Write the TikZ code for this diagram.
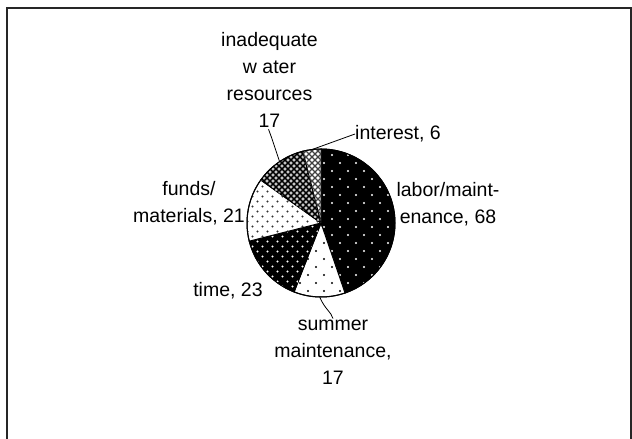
\documentclass[tikz,border=0pt]{standalone}
\usepackage{fontspec}
\setmainfont{Liberation Sans}
\usetikzlibrary{patterns,calc}
\pgfdeclarepatternformonly{sparsedots}{\pgfqpoint{-1pt}{-1pt}}{\pgfqpoint{17pt}{17pt}}{\pgfqpoint{16pt}{16pt}}{%
  \pgfpathcircle{\pgfqpoint{4pt}{4pt}}{1.1pt}%
  \pgfpathcircle{\pgfqpoint{12pt}{12pt}}{1.1pt}%
  \pgfusepath{fill}}
\pgfdeclarepatternformonly{densedots}{\pgfqpoint{-1pt}{-1pt}}{\pgfqpoint{11pt}{11pt}}{\pgfqpoint{10pt}{10pt}}{%
  \pgfpathcircle{\pgfqpoint{2.5pt}{2.5pt}}{1.15pt}%
  \pgfpathcircle{\pgfqpoint{7.5pt}{7.5pt}}{1.15pt}%
  \pgfusepath{fill}}
\pgfdeclarepatternformonly{xhatch}{\pgfqpoint{-1pt}{-1pt}}{\pgfqpoint{7pt}{7pt}}{\pgfqpoint{6pt}{6pt}}{%
  \pgfsetlinewidth{1.3pt}%
  \pgfpathmoveto{\pgfqpoint{0pt}{0pt}}\pgfpathlineto{\pgfqpoint{6pt}{6pt}}%
  \pgfpathmoveto{\pgfqpoint{0pt}{6pt}}\pgfpathlineto{\pgfqpoint{6pt}{0pt}}%
  \pgfusepath{stroke}}
\pgfdeclarepatternformonly{xcenters}{\pgfqpoint{-1pt}{-1pt}}{\pgfqpoint{7pt}{7pt}}{\pgfqpoint{6pt}{6pt}}{%
  \pgfpathcircle{\pgfqpoint{3pt}{0pt}}{0.8pt}%
  \pgfpathcircle{\pgfqpoint{0pt}{3pt}}{0.8pt}%
  \pgfusepath{fill}}
\newcommand{\pieslice}[3]{%
  \path[#3] (c) -- ++(#1:74) arc[start angle=#1, end angle=#2, radius=74] -- cycle;}
\begin{document}
\begin{tikzpicture}[x=1pt,y=1pt,
  lbl/.style={font=\fontsize{19.5}{27}\selectfont, align=center, inner sep=0pt},
  frameline/.style={line width=2pt, black!85},
  leader/.style={line width=0.8pt, black},
  slicebase/.style={draw=black, line width=1pt}]
\useasboundingbox (0,0) rectangle (632,439);
% frame
\draw[frameline] (7,0) -- (7,431) -- (631,431) -- (631,0);
% pie
\coordinate (c) at (321,216);
\pieslice{90}{-71.05}{slicebase, fill=black, postaction={pattern=sparsedots, pattern color=white}}
\pieslice{-71.05}{-111.32}{slicebase, fill=white, postaction={pattern=sparsedots, pattern color=black}}
\pieslice{-111.32}{-165.79}{slicebase, fill=black, postaction={pattern=densedots, pattern color=white}}
\pieslice{-165.79}{-215.53}{slicebase, fill=white, postaction={pattern=densedots, pattern color=black!80}}
\pieslice{144.47}{104.21}{slicebase, fill=black!45, postaction={pattern=xhatch, pattern color=black}, postaction={pattern=xcenters, pattern color=white}}
\pieslice{104.21}{90}{slicebase, fill=white, postaction={pattern=xhatch, pattern color=black!75}}
\draw[line width=1pt] (c) circle[radius=74];
% labels
\node[lbl] (water) at (269.5,359.5) {inadequate\\w ater\\resources\\17};
\node[lbl, anchor=west] (interest) at (355,305) {interest, 6};
\node[lbl] (labor) at (448,235) {labor/maint-\\enance, 68};
\node[lbl] (funds) at (189,236) {funds/\\materials, 21};
\node[lbl] (time) at (228,148) {time, 23};
\node[lbl] (summer) at (333,87) {summer\\maintenance,\\17};
% leader ends
\coordinate (pInt) at ($(c)+(97:74)$);
\coordinate (pWat) at ($(c)+(124:74)$);
\coordinate (pSum) at ($(c)+(-91:74)$);
\draw[leader] (interest.west) -- (pInt);
\draw[leader] (water.south) ++(-1,-2) coordinate (wS) .. controls ($(wS)+(3,-8)$) .. (pWat);
\draw[leader] (summer.north) ++(0,1) coordinate (sN) .. controls ($(sN)+(-2,7)$) and ($(sN)+(-8,9)$) .. (pSum);
\end{tikzpicture}
\end{document}
